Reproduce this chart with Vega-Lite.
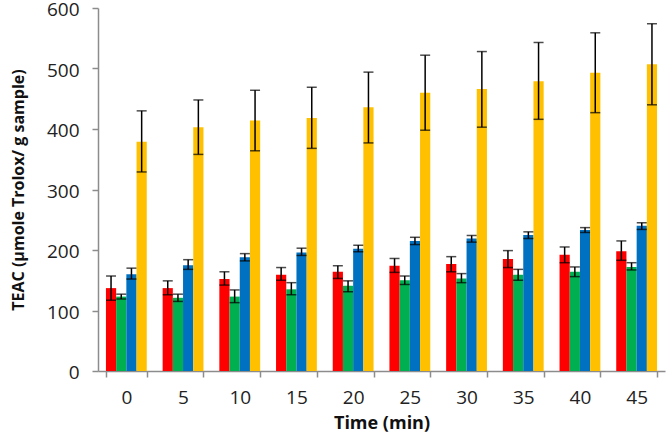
{
  "$schema": "https://vega.github.io/schema/vega-lite/v6.json",
  "width": 567,
  "height": 363,
  "autosize": "none",
  "padding": {"left": 98, "top": 8, "right": 1, "bottom": 67},
  "background": "white",
  "config": {"view": {"stroke": null}, "font": "Open Sans"},
  "data": {"values": [
    {"time": "0", "s": "a", "v": 137, "lo": 117, "hi": 157},
    {"time": "0", "s": "b", "v": 123, "lo": 119, "hi": 127},
    {"time": "0", "s": "c", "v": 160, "lo": 152, "hi": 170},
    {"time": "0", "s": "d", "v": 379, "lo": 329, "hi": 430},
    {"time": "5", "s": "a", "v": 137, "lo": 126, "hi": 149},
    {"time": "5", "s": "b", "v": 121, "lo": 115, "hi": 127},
    {"time": "5", "s": "c", "v": 175, "lo": 168, "hi": 184},
    {"time": "5", "s": "d", "v": 403, "lo": 358, "hi": 448},
    {"time": "10", "s": "a", "v": 152, "lo": 142, "hi": 164},
    {"time": "10", "s": "b", "v": 123, "lo": 113, "hi": 134},
    {"time": "10", "s": "c", "v": 188, "lo": 182, "hi": 194},
    {"time": "10", "s": "d", "v": 414, "lo": 364, "hi": 464},
    {"time": "15", "s": "a", "v": 159, "lo": 150, "hi": 171},
    {"time": "15", "s": "b", "v": 135, "lo": 126, "hi": 146},
    {"time": "15", "s": "c", "v": 196, "lo": 191, "hi": 203},
    {"time": "15", "s": "d", "v": 418, "lo": 368, "hi": 469},
    {"time": "20", "s": "a", "v": 164, "lo": 153, "hi": 174},
    {"time": "20", "s": "b", "v": 141, "lo": 131, "hi": 149},
    {"time": "20", "s": "c", "v": 202, "lo": 197, "hi": 208},
    {"time": "20", "s": "d", "v": 436, "lo": 377, "hi": 494},
    {"time": "25", "s": "a", "v": 174, "lo": 163, "hi": 186},
    {"time": "25", "s": "b", "v": 150, "lo": 143, "hi": 157},
    {"time": "25", "s": "c", "v": 215, "lo": 209, "hi": 221},
    {"time": "25", "s": "d", "v": 460, "lo": 398, "hi": 522},
    {"time": "30", "s": "a", "v": 177, "lo": 164, "hi": 189},
    {"time": "30", "s": "b", "v": 153, "lo": 146, "hi": 161},
    {"time": "30", "s": "c", "v": 219, "lo": 213, "hi": 224},
    {"time": "30", "s": "d", "v": 466, "lo": 403, "hi": 528},
    {"time": "35", "s": "a", "v": 185, "lo": 171, "hi": 199},
    {"time": "35", "s": "b", "v": 159, "lo": 150, "hi": 168},
    {"time": "35", "s": "c", "v": 225, "lo": 219, "hi": 230},
    {"time": "35", "s": "d", "v": 479, "lo": 416, "hi": 543},
    {"time": "40", "s": "a", "v": 192, "lo": 179, "hi": 205},
    {"time": "40", "s": "b", "v": 164, "lo": 156, "hi": 172},
    {"time": "40", "s": "c", "v": 233, "lo": 229, "hi": 237},
    {"time": "40", "s": "d", "v": 493, "lo": 427, "hi": 559},
    {"time": "45", "s": "a", "v": 198, "lo": 183, "hi": 215},
    {"time": "45", "s": "b", "v": 172, "lo": 167, "hi": 179},
    {"time": "45", "s": "c", "v": 240, "lo": 234, "hi": 245},
    {"time": "45", "s": "d", "v": 507, "lo": 440, "hi": 574}
  ]},
  "encoding": {
    "x": {
      "field": "time", "type": "ordinal",
      "sort": ["0", "5", "10", "15", "20", "25", "30", "35", "40", "45"],
      "scale": {"paddingInner": 0.28, "paddingOuter": 0.14},
      "axis": {
        "title": "Time (min)", "titleFontSize": 18, "titleFontWeight": "bold", "titleColor": "#111",
        "titlePadding": 7,
        "labelAngle": 0, "labelFontSize": 19, "labelColor": "#222", "labelPadding": 11,
        "domainColor": "#8c8c8c", "domainWidth": 1.5, "tickColor": "#8c8c8c", "tickWidth": 1.5,
        "tickSize": 6, "tickBand": "extent", "grid": false
      }
    },
    "xOffset": {"field": "s", "type": "nominal", "sort": ["a", "b", "c", "d"], "scale": {"paddingInner": 0, "paddingOuter": 0}}
  },
  "layer": [
    {
      "mark": {"type": "bar"},
      "encoding": {
        "y": {
          "field": "v", "type": "quantitative",
          "scale": {"domain": [0, 600], "nice": false},
          "axis": {
            "title": "TEAC (μmole Trolox/ g sample)", "titleFontSize": 16, "titleFontWeight": "bold", "titleColor": "#111",
            "titlePadding": 20,
            "values": [0, 100, 200, 300, 400, 500, 600],
            "labelFontSize": 19, "labelColor": "#222", "labelPadding": 13, "labelOffset": 1.5,
            "domainColor": "#8c8c8c", "domainWidth": 1.5, "tickColor": "#8c8c8c", "tickWidth": 1.5,
            "tickSize": 6, "grid": false
          }
        },
        "color": {
          "field": "s", "type": "nominal",
          "scale": {"domain": ["a", "b", "c", "d"], "range": ["#FF0000", "#00B050", "#0070C0", "#FFC000"]},
          "legend": null
        }
      }
    },
    {
      "mark": {"type": "rule", "color": "black", "strokeWidth": 1.5},
      "encoding": {
        "y": {"field": "lo", "type": "quantitative"},
        "y2": {"field": "hi"}
      }
    },
    {
      "mark": {"type": "tick", "color": "black", "thickness": 1.5, "size": 10},
      "encoding": {"y": {"field": "lo", "type": "quantitative"}}
    },
    {
      "mark": {"type": "tick", "color": "black", "thickness": 1.5, "size": 10},
      "encoding": {"y": {"field": "hi", "type": "quantitative"}}
    }
  ]
}
